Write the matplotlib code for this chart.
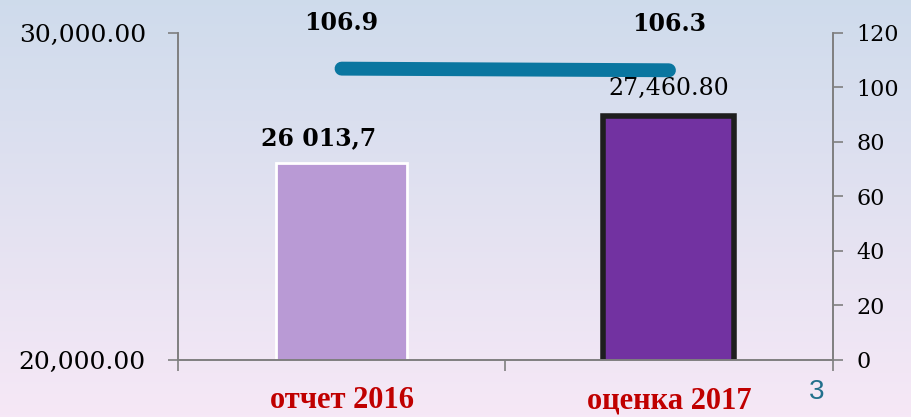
import matplotlib.pyplot as plt
import numpy as np

categories = ['отчет 2016', 'оценка 2017']
volumes = [26013.7, 27460.8]
volume_labels = ['26 013,7', '27,460.80']
growth = [106.9, 106.3]
growth_labels = ['106.9', '106.3']

fig = plt.figure(figsize=(9.12, 4.17), dpi=100)

# background gradient blue -> pink
bg = fig.add_axes([0, 0, 1, 1])
top = np.array([0.81, 0.86, 0.925])
bottom = np.array([0.965, 0.91, 0.965])
t = np.linspace(0, 1, 256)[:, None]
grad = top * (1 - t) + bottom * t
bg.imshow(grad[:, None, :].repeat(2, axis=1), aspect='auto', extent=[0, 1, 0, 1])
bg.axis('off')

ax = fig.add_axes([0.195, 0.137, 0.718, 0.784])
ax.patch.set_alpha(0)
x = np.arange(len(categories))

ax.bar(x[0], volumes[0], width=0.4, color='#b99ad5', edgecolor='white', linewidth=2, zorder=2)
ax.bar(x[1], volumes[1], width=0.4, color='#7232a1', edgecolor='#1e1e1e', linewidth=4, zorder=2)
ax.set_ylim(20000, 30000)
ax.set_xlim(-0.5, 1.5)
ax.set_yticks([20000, 30000])
ax.set_yticklabels(['{:,.2f}'.format(v) for v in [20000, 30000]],
                   family='DejaVu Serif', fontsize=18)
ax.set_xticks([-0.5, 0.5, 1.5])
ax.set_xticklabels([])
ax.tick_params(axis='y', length=7, width=1.2, color='#7f7f7f', pad=16)
ax.tick_params(axis='x', length=8, width=1.2, color='#7f7f7f')
for s in ['top']:
    ax.spines[s].set_visible(False)
for s in ['left', 'right', 'bottom']:
    ax.spines[s].set_color('#7f7f7f')
    ax.spines[s].set_linewidth(1.2)

for i in range(len(categories)):
    ax.text(x[i], -0.125, categories[i], transform=ax.get_xaxis_transform(),
            ha='center', va='center', color='#c00000', fontsize=22,
            fontweight='bold', family='Liberation Serif')

ax.annotate(volume_labels[0], (x[0] - 0.07, volumes[0]), xytext=(0, 18),
            textcoords='offset points', ha='center', va='center',
            fontsize=17, fontweight='bold', family='DejaVu Serif')
ax.annotate(volume_labels[1], (x[1], volumes[1]), xytext=(0, 20),
            textcoords='offset points', ha='center', va='center',
            fontsize=17, family='DejaVu Serif')

ax2 = ax.twinx()
ax2.set_ylim(0, 120)
ax2.set_yticks(range(0, 121, 20))
ax2.set_yticklabels([str(v) for v in range(0, 121, 20)], family='DejaVu Serif', fontsize=16)
ax2.tick_params(axis='y', length=7, width=1.2, color='#7f7f7f', pad=10)
ax2.spines['top'].set_visible(False)
for s in ['left', 'right', 'bottom']:
    ax2.spines[s].set_color('#7f7f7f')
    ax2.spines[s].set_linewidth(1.2)

ax2.plot(x, growth, color='#0a76a0', linewidth=10, solid_capstyle='round', zorder=3)
for i in range(len(growth)):
    ax2.annotate(growth_labels[i], (x[i], growth[i]), xytext=(0, 33),
                 textcoords='offset points', ha='center', va='center',
                 fontsize=17, fontweight='bold', family='DejaVu Serif')

fig.text(817 / 912, 1 - 392 / 417, '3', color='#22708c', fontsize=20,
         ha='center', va='center', family='Liberation Sans')

plt.savefig('out.png', dpi=100)
